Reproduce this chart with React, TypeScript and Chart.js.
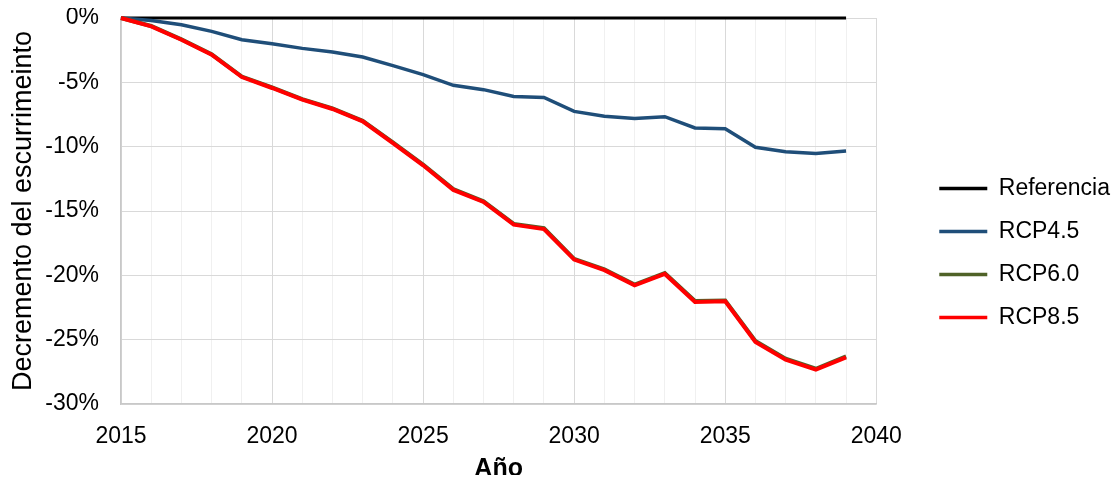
import React, { useEffect, useRef } from "react";
import { Chart, registerables } from "chart.js";

Chart.register(...registerables);

const years = [2015, 2016, 2017, 2018, 2019, 2020, 2021, 2022, 2023, 2024, 2025, 2026, 2027, 2028, 2029, 2030, 2031, 2032, 2033, 2034, 2035, 2036, 2037, 2038, 2039];
const referencia = [0, 0, 0, 0, 0, 0, 0, 0, 0, 0, 0, 0, 0, 0, 0, 0, 0, 0, 0, 0, 0, 0, 0, 0, 0];
const rcp45 = [0, -0.2, -0.52, -1.04, -1.69, -2.0, -2.36, -2.64, -3.03, -3.7, -4.4, -5.23, -5.57, -6.1, -6.17, -7.26, -7.64, -7.82, -7.67, -8.55, -8.6, -10.05, -10.39, -10.54, -10.33];
const rcp60 = [0, -0.62, -1.66, -2.82, -4.55, -5.4, -6.31, -7.03, -7.99, -9.67, -11.4, -13.3, -14.25, -16.0, -16.34, -18.72, -19.54, -20.72, -19.83, -22.0, -21.96, -25.1, -26.48, -27.26, -26.3];
const rcp85 = [0, -0.65, -1.69, -2.85, -4.59, -5.44, -6.35, -7.07, -8.03, -9.72, -11.45, -13.36, -14.3, -16.06, -16.4, -18.78, -19.6, -20.78, -19.89, -22.07, -22.02, -25.18, -26.55, -27.33, -26.37];

const seriesNames = ["Referencia", "RCP4.5", "RCP6.0", "RCP8.5"];
const seriesColors = ["#000000", "#1F4E79", "#4F6228", "#FF0000"];
const seriesWidths = [3, 3.5, 4, 4];
const yTicks = { min: -30, max: 0, step: 5 };
const xTicks = { min: 2015, max: 2040, step: 1, labelEvery: 5 };

const FONT = "'Liberation Sans', Arial, Helvetica, sans-serif";

export default function App() {
  const ref = useRef<HTMLCanvasElement | null>(null);

  useEffect(() => {
    const canvas = ref.current;
    if (!canvas) return;
    const values = [referencia, rcp45, rcp60, rcp85];
    const chart = new Chart(canvas, {
      type: "line",
      data: {
        datasets: values.map((vals, i) => ({
          label: seriesNames[i],
          data: years.map((x, j) => ({ x, y: vals[j] })),
          borderColor: seriesColors[i],
          backgroundColor: seriesColors[i],
          borderWidth: seriesWidths[i],
          pointRadius: 0,
          tension: 0,
          clip: false,
          order: values.length - 1 - i,
          yAxisID: "y",
        })),
      },
      options: {
        responsive: false,
        animation: false,
        layout: { padding: { left: 0, top: 0, bottom: 0, right: 0 } },
        plugins: {
          tooltip: { enabled: false },
          legend: {
            position: "right",
            align: "center",
            title: { display: true, text: "", padding: 0, font: { size: 19, lineHeight: 1.2 } },
            labels: {
              boxWidth: 48,
              boxHeight: 3.5,
              padding: 20,
              color: "#000",
              font: { family: FONT, size: 23 },
              sort: (a: any, b: any) => a.datasetIndex - b.datasetIndex,
              generateLabels: (c: any) =>
                Chart.defaults.plugins.legend.labels.generateLabels(c).map((l: any) => ({
                  ...l,
                  fillStyle: l.strokeStyle,
                  lineWidth: 0,
                })),
            },
          },
        },
        scales: {
          x: {
            type: "linear",
            min: xTicks.min,
            max: xTicks.max,
            afterFit: (s: any) => {
              s.height = 79;
            },
            ticks: {
              stepSize: xTicks.step,
              autoSkip: false,
              maxRotation: 0,
              padding: 19,
              color: "#000",
              font: { family: FONT, size: 23 },
              callback: (v: any) => (Number(v) % xTicks.labelEvery === 0 ? String(v) : ""),
            },
            grid: {
              drawTicks: false,
              lineWidth: 1,
              color: (ctx: any) =>
                ctx.tick && ctx.tick.value % xTicks.labelEvery === 0 ? "#d9d9d9" : "#f0f0f0",
            },
            border: { display: true, color: "#c8c8c8", width: 1.5 },
            title: {
              display: true,
              text: "Año",
              color: "#000",
              padding: { top: 0, bottom: 0 },
              font: { family: FONT, size: 25, weight: "bold", lineHeight: 1.12 },
            },
          },
          y: {
            type: "linear",
            min: yTicks.min,
            max: yTicks.max,
            afterFit: (s: any) => {
              s.width = 121;
              s.paddingTop = 18;
            },
            ticks: {
              stepSize: yTicks.step,
              padding: 22,
              color: "#000",
              font: { family: FONT, size: 23 },
              callback: (v: any) => `${v}%`,
            },
            grid: { drawTicks: false, color: "#d9d9d9", lineWidth: 1 },
            border: { display: true, color: "#c8c8c8", width: 1.5 },
            title: {
              display: true,
              text: "Decremento del escurrimeinto",
              color: "#000",
              padding: { top: 7, bottom: 0 },
              font: { family: FONT, size: 27 },
            },
          },
          gap: {
            type: "linear",
            position: "right",
            display: false,
            afterFit: (s: any) => {
              s.width = 43;
            },
          },
        },
      },
    });
    return () => chart.destroy();
  }, []);

  return (
    <div style={{ margin: "-8px", width: 1120, height: 483, position: "relative", background: "#fff" }}>
      <canvas ref={ref} width={1120} height={483} style={{ display: "block", width: 1120, height: 483 }} />
    </div>
  );
}
